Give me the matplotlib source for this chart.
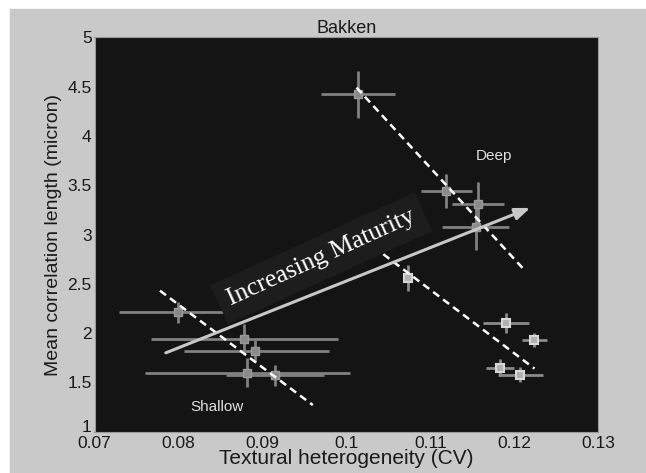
import numpy as np
import matplotlib
matplotlib.use('Agg')
import matplotlib.pyplot as plt

plt.rcParams['font.family'] = ['Liberation Sans', 'DejaVu Sans']

# deep samples
deep_cv  = [0.1014, 0.1119, 0.1157, 0.1154, 0.1073, 0.1190, 0.1224, 0.1183, 0.1207]
deep_len = [4.42, 3.44, 3.31, 3.08, 2.56, 2.10, 1.93, 1.65, 1.58]
deep_xe  = [0.0044, 0.0030, 0.0031, 0.0040, 0.0005, 0.0027, 0.0015, 0.0017, 0.0027]
deep_ye  = [0.24, 0.17, 0.22, 0.24, 0.13, 0.10, 0.07, 0.085, 0.075]

# shallow samples (x errors are lopsided)
sh_cv    = [0.0799, 0.0878, 0.0891, 0.0882, 0.0915]
sh_len   = [2.21, 1.94, 1.82, 1.60, 1.57]
sh_xlo   = [0.0070, 0.0111, 0.0085, 0.0122, 0.0058]
sh_xhi   = [0.0055, 0.0112, 0.0088, 0.0122, 0.0058]
sh_ye    = [0.11, 0.15, 0.11, 0.15, 0.11]

# trend lines (x pairs, y pairs)
trend_a = ([0.1012, 0.1212], [4.49, 2.64])
trend_b = ([0.1044, 0.1224], [2.80, 1.64])
trend_c = ([0.0778, 0.0960], [2.43, 1.27])

fig = plt.figure(figsize=(6.46, 4.73), dpi=100)
fig.patch.set_facecolor('white')
# grey panel behind the axes, white strip on top and left
fig.patches.append(plt.Rectangle((10/646, 0), 1, 1 - 9/473, transform=fig.transFigure,
                                 color='#c9c9c9', zorder=-10))
ax = fig.add_axes([94.5/646, 1 - 431.7/473, (598.3 - 94.5)/646, (431.7 - 37.3)/473])
ax.set_facecolor('#141414')

ekw = dict(fmt='s', ms=6, color='#7a7a7a', ecolor='#808080', elinewidth=2, capsize=0,
           mec='#9a9a9a', mfc='#8a8a8a', zorder=3)
ax.errorbar(deep_cv[:4], deep_len[:4], xerr=deep_xe[:4], yerr=deep_ye[:4], **ekw)
ax.errorbar(deep_cv[4:], deep_len[4:], xerr=deep_xe[4:], yerr=deep_ye[4:],
            fmt='s', ms=6, ecolor='#8a8a8a', elinewidth=2, capsize=0,
            mec='#d8d8d8', mfc='#b0b0b0', mew=1.5, zorder=3)
ax.errorbar(sh_cv, sh_len, xerr=[sh_xlo, sh_xhi], yerr=sh_ye, **ekw)

for xs, ys in (trend_a, trend_b, trend_c):
    ax.plot(xs, ys, color='white', ls=(0, (3, 2)), lw=1.8, zorder=4)

# maturity arrow and its caption
ax.annotate('', xy=(0.1219, 3.27), xytext=(0.0785, 1.80),
            arrowprops=dict(arrowstyle='-|>,head_length=0.9,head_width=0.35',
                            color='#c8c8c8', lw=2.2, shrinkA=0, shrinkB=0), zorder=5)
ax.text(0.0970, 2.76, 'Increasing Maturity', family=['Liberation Serif', 'DejaVu Serif'],
        fontsize=18.5, color='white', rotation=24.5, ha='center', va='center',
        rotation_mode='anchor', zorder=6,
        bbox=dict(boxstyle='square,pad=0.4', fc='#1d1d1d', ec='none'))

ax.text(0.1176, 3.80, 'Deep', color='#e0e0e0', fontsize=11, ha='center', va='center')
ax.text(0.0846, 1.25, 'Shallow', color='#e0e0e0', fontsize=11, ha='center', va='center')

ax.set_xlim(0.07, 0.13)
ax.set_ylim(1, 5)
ax.set_xticks([0.07, 0.08, 0.09, 0.10, 0.11, 0.12, 0.13])
ax.set_xticklabels(['0.07', '0.08', '0.09', '0.1', '0.11', '0.12', '0.13'])
ax.set_yticks([1, 1.5, 2, 2.5, 3, 3.5, 4, 4.5, 5])
ax.set_yticklabels(['1', '1.5', '2', '2.5', '3', '3.5', '4', '4.5', '5'])
ax.tick_params(length=0, labelsize=12.5, colors='#1a1a1a')
ax.tick_params(axis='x', pad=3)
ax.tick_params(axis='y', pad=2)
# lowest y label sits on its baseline so it clears the first x label
ax.get_yticklabels()[0].set_va('baseline')
for s in ax.spines.values():
    s.set_color('#9a9a9a')
    s.set_linewidth(0.8)

ax.set_xlabel('Textural heterogeneity (CV)', fontsize=15, labelpad=-1, color='#1a1a1a')
ax.set_ylabel('Mean correlation length (micron)', fontsize=14, labelpad=4, color='#1a1a1a')
ax.set_title('Bakken', fontsize=13, pad=3, color='#1a1a1a')

fig.savefig('out.png', dpi=100)
